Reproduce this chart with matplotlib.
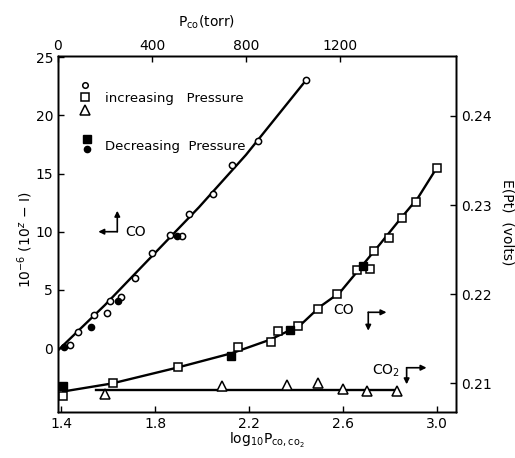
import matplotlib
matplotlib.use('Agg')
import matplotlib.pyplot as plt

# CO circles: top axis (torr) vs left axis
circ_torr = [51, 86, 153, 207, 221, 268, 329, 399, 477, 528, 559, 658, 739, 852, 1055]
circ_y = [0.25, 1.37, 2.83, 2.98, 4.06, 4.41, 5.99, 8.14, 9.68, 9.60, 11.54, 13.2, 15.7, 17.8, 23.0]
circf_torr = [26, 140, 254, 508]
circf_y = [0.09, 1.80, 4.06, 9.6]
# drawn line through the circles
circ_line_torr = [0, 200, 400, 600, 800, 1055]
circ_line_y = [-0.2, 3.7, 7.9, 12.1, 16.6, 23.0]

# CO squares: log10 P vs E(Pt)
sq_x = [1.410, 1.620, 1.899, 2.154, 2.292, 2.325, 2.407, 2.492, 2.574, 2.660,
        2.717, 2.731, 2.797, 2.853, 2.912, 2.999]
sq_e = [0.2086, 0.2100, 0.2119, 0.2141, 0.2146, 0.2159, 0.2164, 0.2184, 0.2200, 0.2227,
        0.2228, 0.2249, 0.2263, 0.2286, 0.2303, 0.2342]
sqf_x = [1.410, 2.122, 2.374, 2.684]
sqf_e = [0.2097, 0.2131, 0.2160, 0.2232]
sq_line_x = [1.409, 1.617, 1.898, 2.128, 2.289, 2.417, 2.502, 2.587, 2.672, 2.757, 2.843, 2.919, 3.000]
sq_line_e = [0.2091, 0.2100, 0.2118, 0.2134, 0.2149, 0.2165, 0.2186, 0.2202, 0.2229, 0.2256, 0.2284, 0.2308, 0.2342]

# CO2 triangles
tri_x = [1.587, 2.084, 2.363, 2.495, 2.599, 2.701, 2.831]
tri_e = [0.2088, 0.2097, 0.2098, 0.2100, 0.2094, 0.2092, 0.2092]
tri_line_x = [1.55, 2.83]
tri_line_e = [0.20925, 0.20925]

bottom_ticks = [1.4, 1.8, 2.2, 2.6, 3.0]
top_ticks = [0, 400, 800, 1200]
left_ticks = [0, 5, 10, 15, 20, 25]
right_ticks = [0.21, 0.22, 0.23, 0.24]
right_labels = ['0.21', '0.22', '0.23', '0.24']

fig = plt.figure(figsize=(5.15, 4.58), dpi=100)
ax = fig.add_axes([0.1126, 0.1004, 0.7728, 0.7773])
ax2 = ax.twinx()
ax3 = ax.twiny()

ax.set_xlim(1.387, 3.081)
ax.set_ylim(-5.5, 25.1)
ax2.set_ylim(0.2068, 0.2467)
ax3.set_xlim(0, 1694)

for a in (ax, ax2, ax3):
    for s in a.spines.values():
        s.set_linewidth(1.0)

ax.set_xticks(bottom_ticks)
ax.set_yticks(left_ticks)
ax.tick_params(direction='in', length=4, width=1, labelsize=10, top=False, right=False)
ax2.set_yticks(right_ticks)
ax2.set_yticklabels(right_labels)
ax2.tick_params(direction='in', length=4, width=1, labelsize=10)
ax3.set_xticks(top_ticks)
ax3.tick_params(direction='in', length=4, width=1, labelsize=10, pad=2)

k = 'black'
# circles
ax3.plot(circ_line_torr, circ_line_y, color=k, lw=1.7, zorder=2)
ax3.plot(circ_torr, circ_y, 'o', ms=4.5, mfc='white', mec=k, mew=1.1, zorder=3)
ax3.plot(circf_torr, circf_y, 'o', ms=4.5, mfc=k, mec=k, zorder=3)

# squares
ax2.plot(sq_line_x, sq_line_e, color=k, lw=1.7, zorder=2)
ax2.plot(sq_x, sq_e, 's', ms=5.8, mfc='white', mec=k, mew=1.1, zorder=3)
ax2.plot(sqf_x, sqf_e, 's', ms=5.8, mfc=k, mec=k, zorder=3)

# triangles
ax2.plot(tri_line_x, tri_line_e, color=k, lw=1.7, zorder=2)
ax2.plot(tri_x, tri_e, '^', ms=7.3, mfc='white', mec=k, mew=1.1, zorder=3)

# legend drawn by hand
tr = ax.transAxes
ax.plot([0.068], [0.9185], 'o', ms=4, mfc='white', mec=k, mew=1.1, transform=tr, clip_on=False)
ax.plot([0.068], [0.884], 's', ms=5.8, mfc='white', mec=k, mew=1.1, transform=tr, clip_on=False)
ax.plot([0.068], [0.848], '^', ms=7, mfc='white', mec=k, mew=1.1, transform=tr, clip_on=False)
ax.plot([0.072], [0.767], 's', ms=6.2, mfc=k, mec=k, transform=tr, clip_on=False)
ax.plot([0.072], [0.738], 'o', ms=4.5, mfc=k, mec=k, transform=tr, clip_on=False)
ax.text(0.118, 0.881, 'increasing   Pressure', transform=tr, fontsize=9.5, va='center')
ax.text(0.118, 0.747, 'Decreasing  Pressure', transform=tr, fontsize=9.5, va='center')

# axis-pointer arrows
ap = dict(arrowstyle='-|>', color=k, lw=1.2, mutation_scale=8, shrinkA=0, shrinkB=0)


def pointer(corner, tip1, tip2):
    ax.annotate('', xy=tip1, xytext=corner, xycoords=tr, textcoords=tr, arrowprops=ap)
    ax.annotate('', xy=tip2, xytext=corner, xycoords=tr, textcoords=tr, arrowprops=ap)


pointer((0.149, 0.5065), (0.149, 0.5654), (0.1013, 0.5065))
ax.text(0.196, 0.5065, 'CO', transform=tr, fontsize=10, ha='center', va='center')

pointer((0.7796, 0.2801), (0.7796, 0.2284), (0.8254, 0.2801))
ax.text(0.7168, 0.2865, 'CO', transform=tr, fontsize=10, ha='center', va='center')

pointer((0.876, 0.1244), (0.876, 0.0778), (0.926, 0.1244))
ax.text(0.824, 0.116, r'CO$_2$', transform=tr, fontsize=10, ha='center', va='center')

# axis titles
fig.text(207 / 515, 1 - 22 / 458, r'P$_{\mathrm{co}}$(torr)', ha='center', va='center', fontsize=10)
fig.text(267 / 515, 1 - 440 / 458, r'log$_{10}$P$_{\mathrm{co,co_2}}$', ha='center', va='center', fontsize=10)
fig.text(25 / 515, 1 - 240 / 458, r'10$^{-6}$ (10$^{z}$ $-$ I)', ha='center', va='center',
         fontsize=10, rotation=90)
fig.text(508 / 515, 1 - 222 / 458, 'E(Pt)  (volts)', ha='center', va='center',
         fontsize=10, rotation=270)

fig.savefig('out.png', dpi=100)
